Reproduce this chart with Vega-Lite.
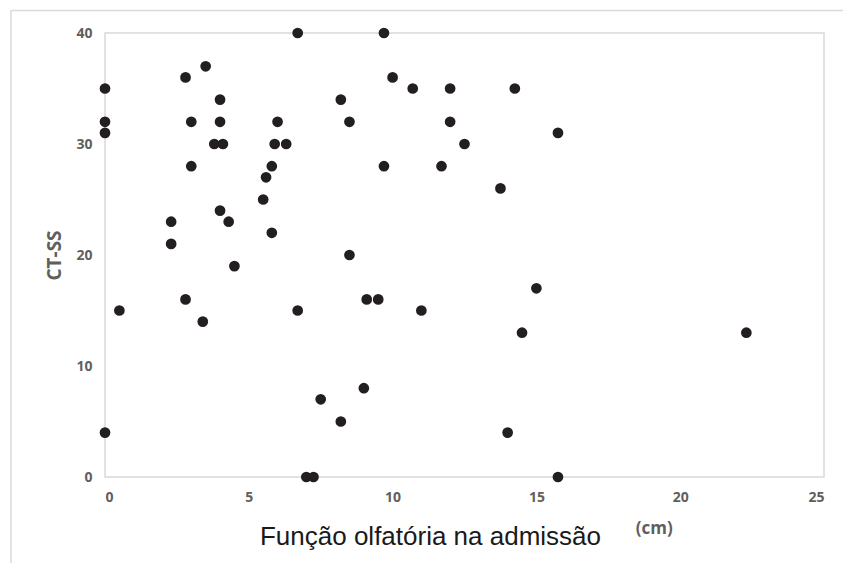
{
  "$schema": "https://vega.github.io/schema/vega-lite/v6.json",
  "width": 719,
  "height": 444,
  "autosize": "none",
  "padding": {"left": 105, "top": 33, "right": 19, "bottom": 86},
  "background": "white",
  "config": {
    "view": {"stroke": "#d9d9d9", "strokeWidth": 1.5},
    "axis": {"gridColor": "#d9d9d9", "gridWidth": 1.5, "domain": false, "ticks": false,
      "labelFont": "Open Sans", "labelFontWeight": "bold", "labelColor": "#5f5f5f", "labelFontSize": 14}
  },
  "datasets": {
    "pts": [
      {"olf": 0, "ctss": 35}, {"olf": 0, "ctss": 32}, {"olf": 0, "ctss": 31}, {"olf": 0, "ctss": 4},
      {"olf": 0.5, "ctss": 15}, {"olf": 2.3, "ctss": 23}, {"olf": 2.3, "ctss": 21}, {"olf": 2.8, "ctss": 36},
      {"olf": 2.8, "ctss": 16}, {"olf": 3, "ctss": 32}, {"olf": 3, "ctss": 28}, {"olf": 3.4, "ctss": 14},
      {"olf": 3.5, "ctss": 37}, {"olf": 3.8, "ctss": 30}, {"olf": 4, "ctss": 34}, {"olf": 4, "ctss": 32},
      {"olf": 4, "ctss": 24}, {"olf": 4.1, "ctss": 30}, {"olf": 4.3, "ctss": 23}, {"olf": 4.5, "ctss": 19},
      {"olf": 5.5, "ctss": 25}, {"olf": 5.6, "ctss": 27}, {"olf": 5.8, "ctss": 28}, {"olf": 5.8, "ctss": 22},
      {"olf": 5.9, "ctss": 30}, {"olf": 6.0, "ctss": 32}, {"olf": 6.3, "ctss": 30}, {"olf": 6.7, "ctss": 40},
      {"olf": 6.7, "ctss": 15}, {"olf": 7.0, "ctss": 0}, {"olf": 7.25, "ctss": 0}, {"olf": 7.5, "ctss": 7},
      {"olf": 8.2, "ctss": 34}, {"olf": 8.2, "ctss": 5}, {"olf": 8.5, "ctss": 32}, {"olf": 8.5, "ctss": 20},
      {"olf": 9.0, "ctss": 8}, {"olf": 9.1, "ctss": 16}, {"olf": 9.5, "ctss": 16}, {"olf": 9.7, "ctss": 40},
      {"olf": 9.7, "ctss": 28}, {"olf": 10, "ctss": 36}, {"olf": 10.7, "ctss": 35}, {"olf": 11, "ctss": 15},
      {"olf": 11.7, "ctss": 28}, {"olf": 12, "ctss": 35}, {"olf": 12, "ctss": 32}, {"olf": 12.5, "ctss": 30},
      {"olf": 13.75, "ctss": 26}, {"olf": 14, "ctss": 4}, {"olf": 14.25, "ctss": 35}, {"olf": 14.5, "ctss": 13},
      {"olf": 15, "ctss": 17}, {"olf": 15.75, "ctss": 31}, {"olf": 15.75, "ctss": 0}, {"olf": 22.3, "ctss": 13}
    ]
  },
  "layer": [
    {
      "data": {"values": [{}]},
      "mark": {"type": "rule", "color": "#d9d9d9", "strokeWidth": 1.5, "clip": false},
      "encoding": {"x": {"datum": -3.27}, "y": {"datum": 42.03}, "y2": {"datum": -8}}
    },
    {
      "data": {"values": [{}]},
      "mark": {"type": "rule", "color": "#d9d9d9", "strokeWidth": 1.5, "clip": false},
      "encoding": {"x": {"datum": -3.27}, "x2": {"datum": 25.7}, "y": {"datum": 42.03}}
    },
    {
      "data": {"name": "pts"},
      "mark": {"type": "circle", "size": 115, "color": "#231f20", "opacity": 1, "clip": false},
      "encoding": {
        "x": {"field": "olf", "type": "quantitative",
          "scale": {"domain": [0, 25], "nice": false, "zero": true},
          "axis": {"values": [0, 5, 10, 15, 20, 25], "labelPadding": 13,
            "title": "Função olfatória na admissão", "titleFont": "Liberation Sans", "titleFontWeight": "normal",
            "titleFontSize": 26, "titleColor": "#1a1a1a", "titleX": 325, "titleY": 67, "titleBaseline": "alphabetic"}},
        "y": {"field": "ctss", "type": "quantitative",
          "scale": {"domain": [0, 40], "nice": false},
          "axis": {"values": [0, 10, 20, 30, 40], "labelPadding": 13,
            "title": "CT-SS", "titleFont": "Open Sans", "titleFontWeight": "bold", "titleFontSize": 19,
            "titleColor": "#5f5f5f", "titlePadding": 11}}
      }
    },
    {
      "data": {"values": [{}]},
      "mark": {"type": "text", "text": "(cm)", "font": "Open Sans", "fontWeight": "bold", "fontSize": 17, "color": "#5f5f5f", "clip": false},
      "encoding": {"x": {"datum": 19.1}, "y": {"datum": -4.7}}
    }
  ]
}
